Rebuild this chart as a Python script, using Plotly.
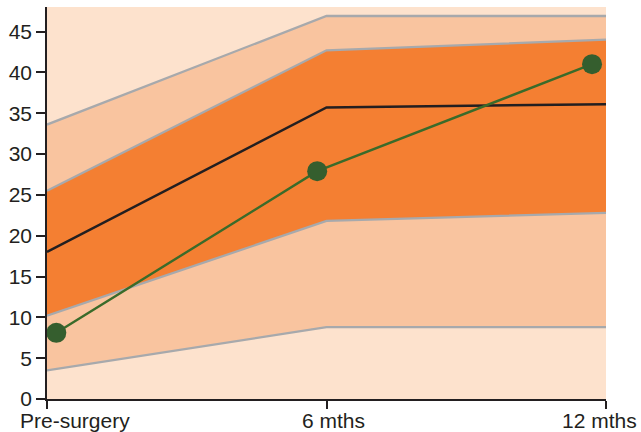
import plotly.graph_objects as go

# Data
time_points = [0, 6, 12]
x_labels = ["Pre-surgery", "6 mths", "12 mths"]
outer_low = [3.5, 8.8, 8.8]
inner_low = [10.2, 21.8, 22.8]
median = [18.0, 35.7, 36.1]
inner_high = [25.5, 42.7, 44.0]
outer_high = [33.6, 46.9, 46.9]
patient_times = [0.2, 5.8, 11.7]
patient_values = [8.1, 27.9, 41.0]
y_ticks = [0, 5, 10, 15, 20, 25, 30, 35, 40, 45]

LIGHT = "#fde2cd"
MID = "#f9c49f"
ORANGE = "#f47f32"
GRAY = "#a7a9ac"
INK = "#231f20"
GREEN_LINE = "#3a6b2a"
GREEN_DOT = "#355e2e"
FONT = "Liberation Sans, Arial, sans-serif"

fig = go.Figure()
fig.add_trace(go.Scatter(x=time_points, y=outer_low, mode="lines",
                         line=dict(width=0), hoverinfo="skip", showlegend=False))
fig.add_trace(go.Scatter(x=time_points, y=outer_high, mode="lines", fill="tonexty",
                         fillcolor=MID, line=dict(width=0), hoverinfo="skip", showlegend=False))
fig.add_trace(go.Scatter(x=time_points, y=inner_low, mode="lines",
                         line=dict(width=0), hoverinfo="skip", showlegend=False))
fig.add_trace(go.Scatter(x=time_points, y=inner_high, mode="lines", fill="tonexty",
                         fillcolor=ORANGE, line=dict(width=0), hoverinfo="skip", showlegend=False))
for series in (outer_low, inner_low, inner_high, outer_high):
    fig.add_trace(go.Scatter(x=time_points, y=series, mode="lines",
                             line=dict(color=GRAY, width=2.3), showlegend=False))
fig.add_trace(go.Scatter(x=time_points, y=median, mode="lines",
                         line=dict(color=INK, width=2.5), showlegend=False))
fig.add_trace(go.Scatter(x=patient_times, y=patient_values, mode="lines+markers",
                         line=dict(color=GREEN_LINE, width=2.4),
                         marker=dict(size=20, color=GREEN_DOT), showlegend=False))

fig.update_xaxes(range=[0, 12], tickvals=time_points, ticktext=["", "", ""],
                 ticks="outside", ticklen=8, tickcolor=INK, tickwidth=1.5,
                 showline=True, linecolor=INK, linewidth=1.5, showgrid=False, zeroline=False)
fig.update_yaxes(range=[0, 48], tickvals=y_ticks, ticks="outside", ticklen=9,
                 tickcolor=INK, tickwidth=1.5, showline=True, linecolor=INK, linewidth=1.5,
                 showgrid=False, zeroline=False, tickfont=dict(size=21, color=INK, family=FONT))

shifts = [(-29, "left"), (7, "center"), (33, "right")]
for t, lab, (sh, anc) in zip(time_points, x_labels, shifts):
    fig.add_annotation(x=t, y=0, xref="x", yref="paper", text=lab, showarrow=False,
                       xanchor=anc, yanchor="top", xshift=sh, yshift=-8,
                       font=dict(size=21, color=INK, family=FONT))

fig.update_layout(width=641, height=432, margin=dict(l=47, r=35, t=7, b=33),
                  plot_bgcolor=LIGHT, paper_bgcolor="white",
                  font=dict(family=FONT, color=INK))
fig.write_html("out.html", config={"displayModeBar": False},
               post_script="document.body.style.margin='0';")
